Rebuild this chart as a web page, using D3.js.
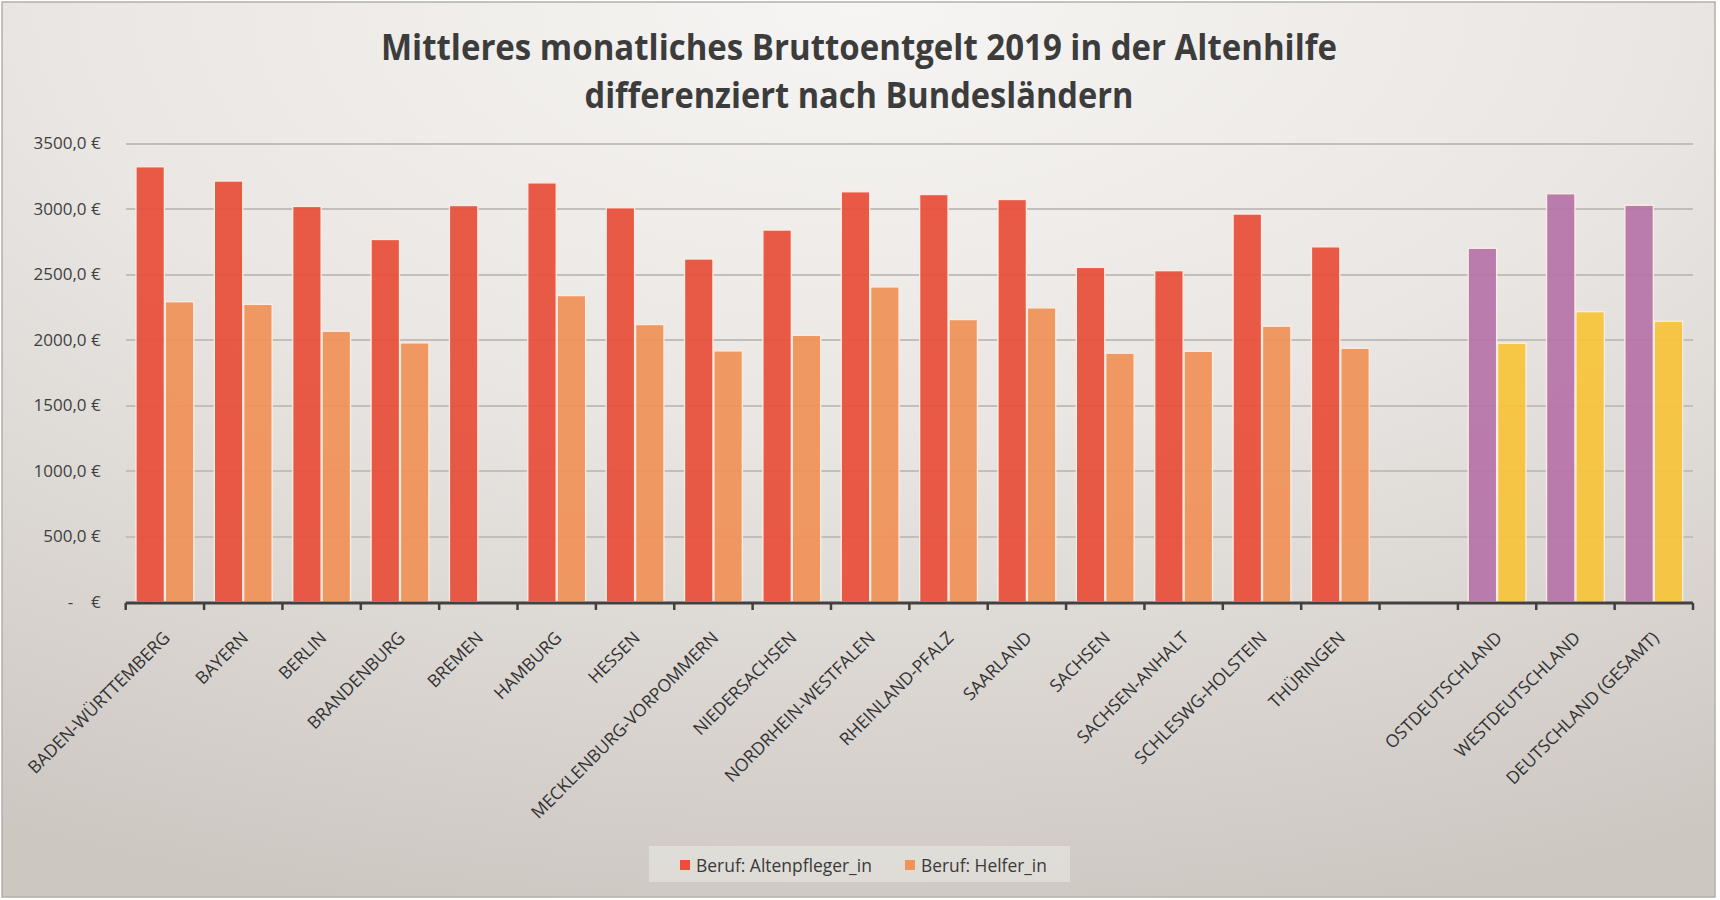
<!DOCTYPE html>
<html>
<head>
<meta charset="utf-8">
<script src="https://cdn.jsdelivr.net/npm/d3@7"></script>
<style>
  html, body { margin: 0; padding: 0; background: #ffffff; }
  svg { display: block; }
  text { font-family: "Open Sans", "Noto Sans", sans-serif; fill: #3f3f3f; }
</style>
</head>
<body>
<svg id="chart" width="1720" height="900"></svg>
<script>
// ---------------- DATA ----------------
const titleLines = ["Mittleres monatliches Bruttoentgelt 2019 in der Altenhilfe", "differenziert nach Bundesländern"];
const categories = [
  "BADEN-WÜRTTEMBERG", "BAYERN", "BERLIN", "BRANDENBURG", "BREMEN", "HAMBURG", "HESSEN",
  "MECKLENBURG-VORPOMMERN", "NIEDERSACHSEN", "NORDRHEIN-WESTFALEN", "RHEINLAND-PFALZ",
  "SAARLAND", "SACHSEN", "SACHSEN-ANHALT", "SCHLESWG-HOLSTEIN", "THÜRINGEN", "",
  "OSTDEUTSCHLAND", "WESTDEUTSCHLAND", "DEUTSCHLAND (GESAMT)"
];
const aggregateCategories = ["OSTDEUTSCHLAND", "WESTDEUTSCHLAND", "DEUTSCHLAND (GESAMT)"];
const altenpfleger = [3321, 3212, 3018, 2766, 3025, 3198, 3008, 2617, 2838, 3130, 3109, 3071, 2553, 2528, 2960, 2710, null, 2699, 3115, 3027];
const helfer       = [2291, 2271, 2066, 1977, null, 2338, 2117, 1916, 2035, 2404, 2155, 2244, 1898, 1913, 2104, 1936, null, 1974, 2215, 2142];
const seriesNames = ["Beruf: Altenpfleger_in", "Beruf: Helfer_in"];
const yTicks = [0, 500, 1000, 1500, 2000, 2500, 3000, 3500];

// ---------------- STYLE ----------------
const colState = ["#e8503b", "#f09359"];
const colAgg   = ["#b775a9", "#f6c33c"];

const W = 1720, H = 900;
const plot = { left: 125.7, right: 1693, top: 143.3, bottom: 602 };

const svg = d3.select("#chart");
const defs = svg.append("defs");

const bg = defs.append("radialGradient").attr("id", "bgGrad")
  .attr("cx", "50%").attr("cy", "0%").attr("r", "105%").attr("fx", "50%").attr("fy", "0%");
bg.append("stop").attr("offset", "0%").attr("stop-color", "#f7f5f3");
bg.append("stop").attr("offset", "45%").attr("stop-color", "#e9e6e3");
bg.append("stop").attr("offset", "100%").attr("stop-color", "#cdc7c2");

const gg = defs.append("linearGradient").attr("id", "gridGrad")
  .attr("gradientUnits", "userSpaceOnUse")
  .attr("x1", 0).attr("y1", plot.top).attr("x2", 0).attr("y2", plot.bottom);
gg.append("stop").attr("offset", "0%").attr("stop-color", "#c2beba");
gg.append("stop").attr("offset", "100%").attr("stop-color", "#3c3a38");

svg.append("rect").attr("x", 0).attr("y", 0).attr("width", W).attr("height", H).attr("fill", "#ffffff");
svg.append("rect").attr("x", 2).attr("y", 2).attr("width", 1713).attr("height", 895)
  .attr("fill", "url(#bgGrad)").attr("stroke", "#b3afab").attr("stroke-width", 1.5);

// ---------------- TITLE ----------------
const titleY = [60, 108];
const titleW = [956, 549];
titleLines.forEach((t, i) => {
  svg.append("text")
    .attr("x", W / 2 - 1).attr("y", titleY[i])
    .attr("text-anchor", "middle")
    .attr("font-size", 35).attr("font-weight", 700)
    .attr("textLength", titleW[i]).attr("lengthAdjust", "spacingAndGlyphs")
    .style("fill", "#3c3c3c")
    .text(t);
});

// ---------------- SCALES ----------------
const x = d3.scaleBand().domain(categories).range([plot.left, plot.right]).paddingInner(0).paddingOuter(0);
const xs = d3.scaleBand().domain([0, 1]).range([0, x.bandwidth()]).paddingInner(0.034).paddingOuter(0.35);
const y = d3.scaleLinear().domain([0, 3500]).range([plot.bottom, plot.top]);

// gridlines
const grid = svg.append("g").attr("transform", `translate(${plot.left},0)`)
  .call(d3.axisLeft(y).tickValues(yTicks.filter(v => v > 0)).tickSize(-(plot.right - plot.left)).tickFormat(""));
grid.select(".domain").remove();
grid.selectAll("line").attr("stroke", "url(#gridGrad)").attr("stroke-width", 2).attr("shape-rendering", "crispEdges");

// y labels
const fmt = v => v === 0 ? "-    €" : d3.format(".1f")(v).replace(".", ",") + " €";
const yAx = svg.append("g").attr("transform", `translate(${plot.left},0)`)
  .call(d3.axisLeft(y).tickValues(yTicks).tickSize(0).tickPadding(25).tickFormat(fmt));
yAx.select(".domain").remove();
yAx.selectAll("text").attr("font-size", 17).attr("font-family", "'Open Sans', sans-serif")
  .style("fill", "#3f3f3f").style("white-space", "pre");

// ---------------- BARS ----------------
const rows = categories.map((c, i) => ({ c, vals: [altenpfleger[i], helfer[i]], agg: aggregateCategories.includes(c) }));
const barG = svg.append("g");
rows.forEach(r => {
  r.vals.forEach((v, k) => {
    if (v == null) return;
    barG.append("rect")
      .attr("x", x(r.c) + xs(k))
      .attr("y", y(v))
      .attr("width", xs.bandwidth())
      .attr("height", y(0) - y(v))
      .attr("fill", (r.agg ? colAgg : colState)[k])
      .attr("fill-opacity", 0.94)
      .attr("stroke", "#fdece2").attr("stroke-width", 1.3);
  });
});

// ---------------- X AXIS ----------------
const axisY = plot.bottom + 1;
svg.append("line").attr("x1", plot.left).attr("x2", plot.right).attr("y1", axisY).attr("y2", axisY)
  .attr("stroke", "#424040").attr("stroke-width", 3);
const tickPos = categories.map(c => x(c)).concat([x(categories[categories.length - 1]) + x.bandwidth()]);
svg.append("g").selectAll("line").data(tickPos).join("line")
  .attr("x1", d => d).attr("x2", d => d).attr("y1", axisY).attr("y2", axisY + 7)
  .attr("stroke", "#424040").attr("stroke-width", 2.5);

// labels
const lblG = svg.append("g");
const lbls = lblG.selectAll("text").data(categories.filter(c => c !== "")).join("text")
  .attr("transform", c => `translate(${x(c) + x.bandwidth() / 2 + 6},${axisY + 36}) rotate(-45)`)
  .attr("text-anchor", "end")
  .attr("font-size", 16)
  .style("fill", "#333333")
  .text(c => c);
// fit font size so the longest reference label matches its measured width
const refNode = lbls.filter(c => c === "BADEN-WÜRTTEMBERG").node();
const refW = refNode.getComputedTextLength();
const lblSize = 16 * 192 / refW;
lbls.attr("font-size", lblSize);

// ---------------- LEGEND ----------------
const leg = svg.append("g");
leg.append("rect").attr("x", 649).attr("y", 846).attr("width", 421).attr("height", 36)
  .attr("fill", "#e2dfdb").attr("opacity", 0.85);
const legItems = [
  { name: seriesNames[0], color: colState[0], sx: 680, tx: 696, tw: 176 },
  { name: seriesNames[1], color: colState[1], sx: 905, tx: 921, tw: 126 }
];
legItems.forEach(d => {
  leg.append("rect").attr("x", d.sx).attr("y", 860).attr("width", 10).attr("height", 10).attr("fill", d.color);
  const t = leg.append("text").attr("x", d.tx).attr("y", 871.5).attr("font-size", 16).style("fill", "#3a3a3a").text(d.name);
  const w = t.node().getComputedTextLength();
  t.attr("font-size", 16 * d.tw / w);
});
</script>
</body>
</html>
